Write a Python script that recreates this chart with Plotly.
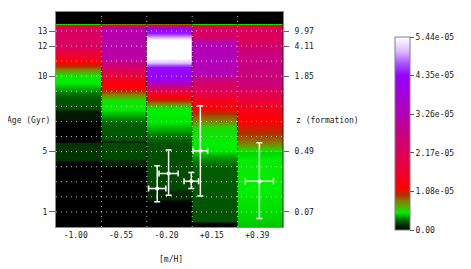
import plotly.graph_objects as go

# ---------------- data ----------------
CATEGORIES = ["-1.00", "-0.55", "-0.20", "+0.15", "+0.39"]
SCALE = 1e-5          # heat values below are in units of 1e-05
ZMAX = 5.44e-5

# column [m/H] = -1.00
AGES_M100 = [0, 4.4, 4.45, 5.55, 5.6, 7.05, 7.15, 7.7, 7.8, 8.6, 9.1, 9.6, 10.1, 10.5, 10.95, 11.5, 12.0, 13.25, 13.5, 14.3]
VALS_M100 = [0, 0, 0.15, 0.15, 0, 0, 0.07, 0.07, 0.2, 0.24, 0.36, 0.5, 0.5, 0.82, 1.2, 1.7, 2.25, 2.3, 0, 0]
# column [m/H] = -0.55
AGES_M055 = [0, 3.95, 4.05, 4.4, 4.5, 5.55, 5.62, 5.72, 5.8, 6.8, 7.3, 7.9, 8.4, 8.85, 9.3, 9.7, 10.2, 10.7, 11.2, 13.25, 13.5, 14.3]
VALS_M055 = [0, 0, 0.1, 0.1, 0.2, 0.2, 0.1, 0.1, 0.22, 0.25, 0.36, 0.5, 0.52, 0.82, 1.2, 1.35, 1.9, 2.5, 3.1, 3.2, 0, 0]
# column [m/H] = -0.20
AGES_M020 = [0, 1.75, 1.85, 2.4, 2.5, 5.6, 6.2, 6.9, 7.9, 8.2, 8.6, 9.1, 9.4, 9.9, 10.6, 10.9, 11.2, 12.4, 12.6, 12.85, 13.2, 13.5, 14.3]
VALS_M020 = [0, 0, 0.12, 0.12, 0.2, 0.22, 0.33, 0.47, 0.5, 0.82, 1.2, 2.0, 3.0, 4.3, 4.4, 5.0, 5.44, 5.44, 5.0, 4.45, 4.3, 0, 0]
# column [m/H] = +0.15
AGES_P015 = [0, 0.25, 0.4, 4.0, 4.6, 5.1, 6.0, 6.6, 7.0, 7.5, 7.9, 8.4, 9.0, 9.7, 10.2, 12.2, 12.6, 13.25, 13.5, 14.3]
VALS_P015 = [0, 0, 0.22, 0.25, 0.36, 0.48, 0.5, 0.55, 0.8, 0.95, 1.2, 1.45, 2.1, 2.5, 3.3, 3.35, 2.4, 2.3, 0, 0]
# column [m/H] = +0.39
AGES_P039 = [0, 0.5, 3.0, 4.3, 5.0, 5.6, 6.3, 7.1, 8.0, 8.8, 9.5, 11.5, 12.4, 13.25, 13.5, 14.3]
VALS_P039 = [0.42, 0.45, 0.5, 0.5, 0.45, 0.82, 1.0, 1.2, 1.5, 2.0, 2.6, 2.75, 2.2, 2.2, 0, 0]

AGE_TICKS = [1, 5, 10, 12, 13]
AGE_TICK_TEXT = ["1", "5", "10", "12", "13"]
Z_TICK_TEXT = ["0.07", "0.49", "1.85", "4.11", "9.97"]
GRID_AGES = [1, 2, 3, 4, 5, 6, 7, 8, 9, 10, 11, 12, 13]
CB_TICKVALS = [0, 1.088e-5, 2.176e-5, 3.264e-5, 4.352e-5, 5.44e-5]
CB_TICKTEXT = ["0.00", "1.08e-05", "2.17e-05", "3.26e-05", "4.35e-05", "5.44e-05"]

# clusters (x in column-index units)
PT_X = [1.73, 1.98, 2.48, 2.68, 3.98]
PT_XERR = [0.19, 0.21, 0.16, 0.16, 0.31]
PT_AGE = [2.56, 3.55, 3.04, 5.05, 3.04]
PT_AGE_PLUS = [1.50, 1.55, 0.58, 3.0, 2.54]
PT_AGE_MINUS = [0.89, 1.44, 0.48, 3.0, 2.48]

# ---------------- style ----------------
COLORSCALE = [
    [0.00, "#000000"], [0.03, "#003800"], [0.06, "#008000"], [0.09, "#00f000"],
    [0.12, "#50b000"], [0.15, "#808000"], [0.18, "#b03000"], [0.22, "#ff0000"],
    [0.30, "#ee0030"], [0.40, "#dc0058"], [0.50, "#c80080"], [0.60, "#b400b4"],
    [0.70, "#a400d8"], [0.80, "#9600ff"], [0.86, "#a850ff"], [0.93, "#e0c0ff"],
    [1.00, "#ffffff"],
]
FONT = dict(family="DejaVu Sans Mono", size=8, color="#202020")

# the page body adds an 8px offset; lay out in window pixels and compensate
OFF = 8
WIN_W, WIN_H = 471, 269
PLOT_L, PLOT_R, PLOT_T, PLOT_B = 56, 283.5, 12, 226.7   # plot box in window pixels
W, H = WIN_W - OFF, WIN_H - OFF
ML = PLOT_L - OFF
MT = PLOT_T - OFF
MR = W - (PLOT_R - OFF)
MB = H - (PLOT_B - OFF)
PW, PH = PLOT_R - PLOT_L, PLOT_B - PLOT_T


def px_to_paper_x(px):
    return (px - PLOT_L) / PW


def px_to_paper_y(py):
    return (PLOT_B - py) / PH


fig = go.Figure()

columns = [(AGES_M100, VALS_M100), (AGES_M055, VALS_M055), (AGES_M020, VALS_M020),
           (AGES_P015, VALS_P015), (AGES_P039, VALS_P039)]
for i, (ages, vals) in enumerate(columns):
    fig.add_trace(go.Heatmap(
        x=[i - 0.25, i + 0.25], y=ages,
        z=[[v * SCALE, v * SCALE] for v in vals],
        coloraxis="coloraxis", zsmooth="best", hoverinfo="skip",
    ))

fig.add_trace(go.Scatter(
    x=PT_X, y=PT_AGE, mode="markers",
    marker=dict(color="white", size=4),
    error_x=dict(type="data", array=PT_XERR, color="white", thickness=1.5, width=3),
    error_y=dict(type="data", array=PT_AGE_PLUS, arrayminus=PT_AGE_MINUS,
                 color="white", thickness=1.5, width=3),
    showlegend=False, hoverinfo="skip",
))

# invisible companion so the right-hand redshift axis is drawn
fig.add_trace(go.Scatter(
    x=PT_X, y=PT_AGE, yaxis="y2", mode="markers",
    marker=dict(opacity=0, size=1), showlegend=False, hoverinfo="skip",
))

# dotted grid drawn above the image
grid_style = dict(color="rgba(255,255,255,0.75)", width=1, dash="1px,4px")
shapes = []
for a in GRID_AGES:
    shapes.append(dict(type="line", xref="x domain", yref="y", x0=0, x1=1, y0=a, y1=a,
                       line=grid_style, layer="above"))
for k in range(1, len(CATEGORIES)):
    shapes.append(dict(type="line", xref="x", yref="y domain", x0=k - 0.5, x1=k - 0.5,
                       y0=0, y1=1, line=grid_style, layer="above"))

annotations = [
    dict(text="Age (Gyr)", xref="paper", yref="paper", x=px_to_paper_x(5), y=px_to_paper_y(120),
         xanchor="left", yanchor="middle", showarrow=False, font=FONT),
    dict(text="z (formation)", xref="paper", yref="paper", x=px_to_paper_x(295), y=px_to_paper_y(120),
         xanchor="left", yanchor="middle", showarrow=False, font=FONT),
    dict(text="[m/H]", xref="paper", yref="paper", x=px_to_paper_x(171), y=px_to_paper_y(259),
         xanchor="center", yanchor="middle", showarrow=False, font=FONT),
]

fig.update_layout(
    width=W, height=H,
    margin=dict(l=ML, r=MR, t=MT, b=MB, pad=0),
    paper_bgcolor="white", plot_bgcolor="black",
    font=FONT, showlegend=False,
    shapes=shapes, annotations=annotations,
    coloraxis=dict(
        colorscale=COLORSCALE, cmin=0, cmax=ZMAX,
        colorbar=dict(
            x=px_to_paper_x(396), xanchor="left", xpad=0,
            y=px_to_paper_y(133.4), yanchor="middle", ypad=0,
            thickness=15, thicknessmode="pixels",
            len=193, lenmode="pixels",
            outlinecolor="#808080", outlinewidth=1,
            tickvals=CB_TICKVALS, ticktext=CB_TICKTEXT,
            ticks="outside", ticklen=4, tickcolor="#555555",
            tickfont=FONT,
        ),
    ),
    xaxis=dict(
        range=[-0.5, len(CATEGORIES) - 0.5], tickvals=list(range(len(CATEGORIES))),
        ticktext=CATEGORIES, ticks="", showgrid=False, zeroline=False,
        showline=True, mirror=True, linecolor="#8c8c8c", linewidth=1,
        tickfont=FONT, ticklabelshift=-3,
    ),
    yaxis=dict(
        range=[0, 14.26], tickvals=AGE_TICKS, ticktext=AGE_TICK_TEXT,
        ticks="outside", ticklen=6, tickcolor="#666666",
        showgrid=False, zeroline=False,
        showline=True, mirror=True, linecolor="#8c8c8c", linewidth=1,
        tickfont=FONT,
    ),
    yaxis2=dict(
        overlaying="y", side="right", range=[0, 14.26],
        tickvals=AGE_TICKS, ticktext=Z_TICK_TEXT,
        ticks="outside", ticklen=5, tickcolor="#666666",
        showgrid=False, zeroline=False, showline=False,
        tickfont=FONT, ticklabelstandoff=4,
    ),
)

fig.write_html("out.html")
